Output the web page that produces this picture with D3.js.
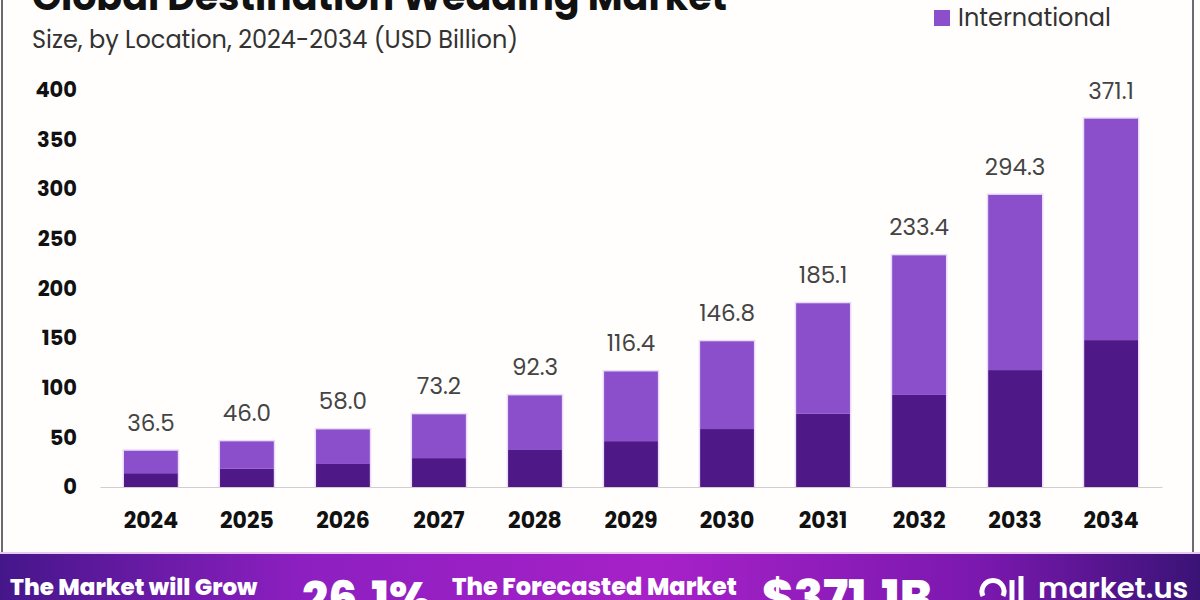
<!DOCTYPE html>
<html>
<head>
<meta charset="utf-8">
<script src="https://cdn.jsdelivr.net/npm/d3@7"></script>
<style>
  body { margin: 0; background: #fff; }
  svg { display: block; font-family: Poppins, Inter, "Noto Sans", sans-serif; }
</style>
</head>
<body>
<div id="chart"></div>
<script>
// values (USD Billion)
const years = ["2024", "2025", "2026", "2027", "2028", "2029", "2030", "2031", "2032", "2033", "2034"];
const totals = [36.5, 46.0, 58.0, 73.2, 92.3, 116.4, 146.8, 185.1, 233.4, 294.3, 371.1];
const domestic = [13.9, 18.4, 23.2, 29.1, 37.3, 46.2, 58.4, 73.8, 92.8, 117.8, 148.0];
const international = [22.6, 27.6, 34.8, 44.1, 55.0, 70.2, 88.4, 111.3, 140.6, 176.5, 223.1];
const yTicks = [0, 50, 100, 150, 200, 250, 300, 350, 400];

const W = 1200, H = 600;
const colDomestic = "#4f1887";
const colInternational = "#8b4fcb";

const svg = d3.select("#chart").append("svg")
    .attr("width", W)
    .attr("height", H);

svg.append("rect").attr("width", W).attr("height", H).attr("fill", "#fffefc");

// frame
svg.append("path")
    .attr("d", "M2,0 V553 M1193,0 V553")
    .attr("stroke", "#6f6a72")
    .attr("stroke-width", 2)
    .attr("fill", "none");

// title (cut off at the top in the reference)
svg.append("text")
    .attr("x", 32).attr("y", 10)
    .style("font-size", "38px")
    .style("font-weight", 700)
    .style("fill", "#111")
    .text("Global Destination Wedding Market");

svg.append("text")
    .attr("x", 32).attr("y", 48)
    .style("font-size", "24px")
    .style("fill", "#333")
    .text("Size, by Location, 2024-2034 (USD Billion)");

// legend
svg.append("rect")
    .attr("x", 934).attr("y", 10)
    .attr("width", 16).attr("height", 16)
    .attr("fill", colInternational);
svg.append("text")
    .attr("x", 958).attr("y", 26)
    .style("font-size", "24px")
    .style("fill", "#333")
    .text("International");

// scales
const x = d3.scaleBand()
    .domain(years)
    .range([100, 1162])
    .paddingInner(0.44)
    .paddingOuter(0.25);

const y = d3.scaleLinear()
    .domain([0, 400])
    .range([487, 90]);

// y axis
const yAxis = svg.append("g")
    .attr("transform", "translate(100,0)")
    .call(d3.axisLeft(y).tickValues(yTicks).tickSize(0).tickPadding(23));
yAxis.select(".domain").remove();
yAxis.selectAll("text")
    .style("font-family", "Poppins, Inter, sans-serif")
    .style("font-size", "21px")
    .style("font-weight", 700)
    .style("fill", "#111");

// x axis
const xAxis = svg.append("g")
    .attr("transform", "translate(0,487)")
    .call(d3.axisBottom(x).tickSize(0).tickPadding(25));
xAxis.select(".domain").attr("stroke", "#cfcfcf").attr("stroke-width", 1.2);
xAxis.selectAll("text")
    .style("font-family", "Poppins, Inter, sans-serif")
    .style("font-size", "22px")
    .style("font-weight", 700)
    .style("fill", "#111");

// stacked bars
const rows = years.map((yr, i) => ({ year: yr, domestic: domestic[i], international: international[i], total: totals[i] }));
const stack = d3.stack().keys(["domestic", "international"])(rows);
const colors = { domestic: colDomestic, international: colInternational };

// soft glow behind each bar
svg.append("g").selectAll("rect")
    .data(rows)
    .join("rect")
    .attr("x", d => x(d.year) - 1.5)
    .attr("y", d => y(d.domestic + d.international) - 1.5)
    .attr("width", x.bandwidth() + 3)
    .attr("height", d => y(0) - y(d.domestic + d.international) + 1.5)
    .attr("fill", "#eadcf8");

svg.append("g").selectAll("g")
    .data(stack)
    .join("g")
    .attr("fill", s => colors[s.key])
    .selectAll("rect")
    .data(s => s)
    .join("rect")
    .attr("x", d => x(d.data.year))
    .attr("y", d => y(d[1]))
    .attr("width", x.bandwidth())
    .attr("height", d => y(d[0]) - y(d[1]));

// value labels
svg.append("g").selectAll("text")
    .data(rows)
    .join("text")
    .attr("x", d => x(d.year) + x.bandwidth() / 2)
    .attr("y", d => y(d.domestic + d.international) - 20)
    .attr("text-anchor", "middle")
    .style("font-size", "23px")
    .style("fill", "#444")
    .text(d => d.total.toFixed(1));

// bottom banner
const defs = svg.append("defs");
const grad = defs.append("linearGradient").attr("id", "bannerGrad");
grad.append("stop").attr("offset", "0%").attr("stop-color", "#45168a");
grad.append("stop").attr("offset", "25%").attr("stop-color", "#8d1fc0");
grad.append("stop").attr("offset", "55%").attr("stop-color", "#a621c8");
grad.append("stop").attr("offset", "82%").attr("stop-color", "#7a18ae");
grad.append("stop").attr("offset", "100%").attr("stop-color", "#3a1376");

svg.append("rect")
    .attr("x", 0).attr("y", 553)
    .attr("width", W).attr("height", 47)
    .attr("fill", "url(#bannerGrad)");
svg.append("rect")
    .attr("x", 0).attr("y", 552)
    .attr("width", W).attr("height", 2)
    .attr("fill", "#e9c9f0");

const bannerText = [
    { x: 10, size: 23, text: "The Market will Grow" },
    { x: 302, size: 46, text: "26.1%" },
    { x: 452, size: 24, text: "The Forecasted Market" },
    { x: 762, size: 48, text: "$371.1B" }
];
svg.append("g").selectAll("text")
    .data(bannerText)
    .join("text")
    .attr("x", d => d.x)
    .attr("y", d => d.size > 30 ? 614 : 595)
    .style("font-size", d => d.size + "px")
    .style("font-weight", 800)
    .style("fill", "#fff")
    .text(d => d.text);

// logo
const logo = svg.append("g").attr("fill", "none").attr("stroke", "#fff").attr("stroke-width", 5);
logo.append("path").attr("d", "M983,596 A11,11 0 1 1 1003,596");
logo.append("line").attr("x1", 1012).attr("y1", 580).attr("x2", 1012).attr("y2", 600);
logo.append("line").attr("x1", 1021).attr("y1", 576).attr("x2", 1021).attr("y2", 600);
svg.append("text")
    .attr("x", 1038).attr("y", 598)
    .style("font-size", "29px")
    .style("font-weight", 600)
    .style("fill", "#fff")
    .text("market.us");
</script>
</body>
</html>
